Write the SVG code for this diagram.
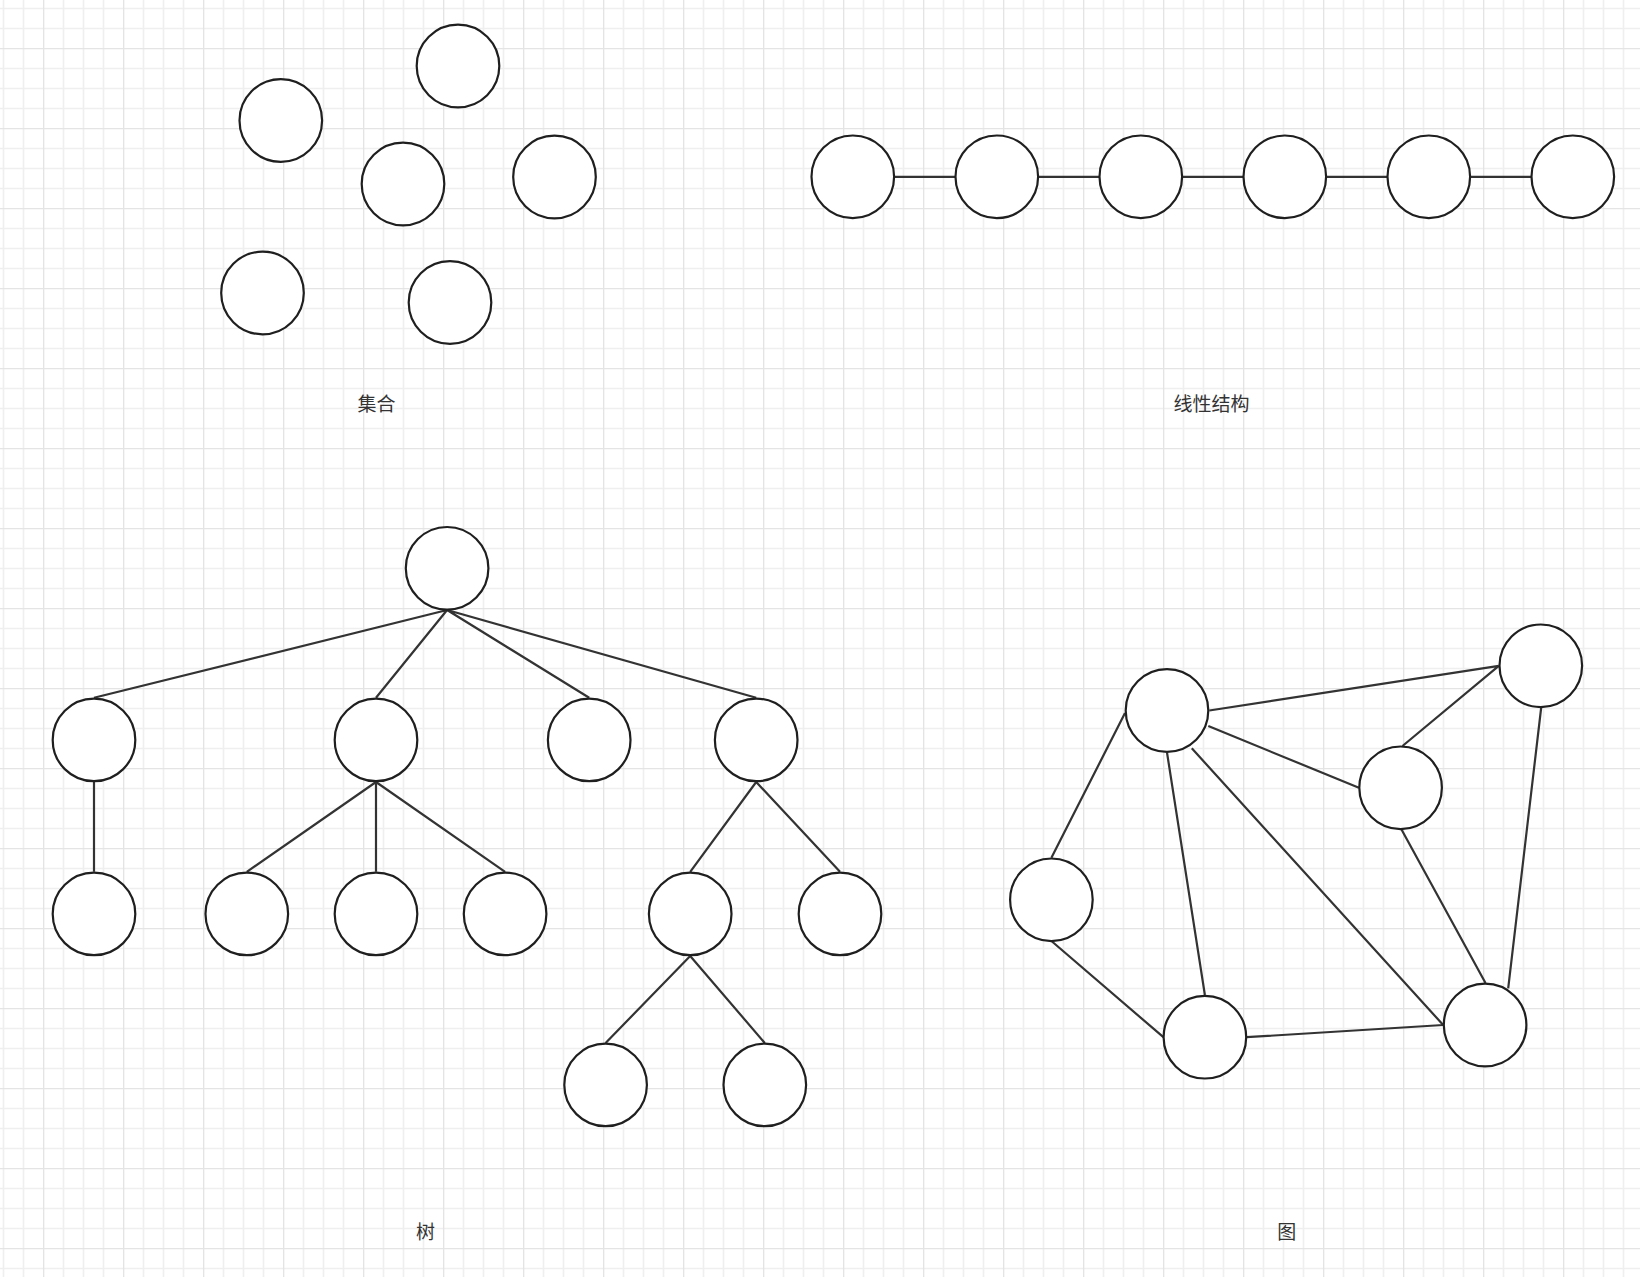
<svg xmlns="http://www.w3.org/2000/svg" width="1640" height="1277" viewBox="0 0 1640 1277">
<defs>
<pattern id="grid" x="43" y="48" width="80" height="80" patternUnits="userSpaceOnUse">
<rect width="80" height="80" fill="#ffffff"/>
<path d="M20.5 0V80M40.5 0V80M60.5 0V80M0 20.5H80M0 40.5H80M0 60.5H80" stroke="#efefef" stroke-width="1.6" fill="none"/>
<path d="M0.5 0V80M0 0.5H80" stroke="#e4e4e4" stroke-width="1.6" fill="none"/>
</pattern>
<style>
.n{fill:#ffffff;stroke:#1f1f1f;stroke-width:2.2}
.e{stroke:#333333;stroke-width:2.2;fill:none}
.t{font-family:"Noto Sans CJK SC","Noto Sans",sans-serif;font-size:19px;fill:#333333;text-anchor:middle;dominant-baseline:central}
</style>
</defs>
<rect width="1640" height="1277" fill="url(#grid)"/>
<g id="connectors">
<path class="e" d="M894.3 176.8H955.3M1038.3 176.8H1099.3M1182.3 176.8H1243.3M1326.3 176.8H1387.3M1470.3 176.8H1531.3"/>
<path class="e" d="M447.1 610L94 697.8M447.1 610L376 697.8M447.1 610L589.2 697.8M447.1 610L756.2 697.8"/>
<path class="e" d="M94 782V871.8M376 782L246.8 871.8M376 782V871.8M376 782L505.1 871.8M756.2 782L690.2 871.8M756.2 782L840 871.8M690.2 956L605.6 1043M690.2 956L764.8 1043"/>
<path class="e" d="M1209.3 710.5L1498.8 665.8M1125 713L1051.4 857.8M1208.3 726L1358.9 787.8M1498.8 665.8L1402.5 746M1167 752.5L1204.9 995M1191.8 748.3L1443.2 1025M1401.5 829.5L1485.5 983M1541.2 707.5L1508.2 988.3M1052 941.5L1163.4 1037.2M1246.4 1037.2L1443.2 1025"/>
</g>
<g id="set">
<circle id="s1" class="n" cx="280.8" cy="120.5" r="41.3"/>
<circle id="s2" class="n" cx="458" cy="66" r="41.3"/>
<circle id="s3" class="n" cx="403" cy="184" r="41.3"/>
<circle id="s4" class="n" cx="554.5" cy="177" r="41.3"/>
<circle id="s5" class="n" cx="262.5" cy="293" r="41.3"/>
<circle id="s6" class="n" cx="450" cy="302.5" r="41.3"/>
</g>
<g id="linear">
<circle id="l1" class="n" cx="852.8" cy="176.8" r="41.3"/>
<circle id="l2" class="n" cx="996.8" cy="176.8" r="41.3"/>
<circle id="l3" class="n" cx="1140.8" cy="176.8" r="41.3"/>
<circle id="l4" class="n" cx="1284.8" cy="176.8" r="41.3"/>
<circle id="l5" class="n" cx="1428.8" cy="176.8" r="41.3"/>
<circle id="l6" class="n" cx="1572.8" cy="176.8" r="41.3"/>
</g>
<g id="tree">
<circle id="t0" class="n" cx="447.1" cy="568.3" r="41.3"/>
<circle id="t1" class="n" cx="94" cy="739.9" r="41.3"/>
<circle id="t2" class="n" cx="376" cy="739.9" r="41.3"/>
<circle id="t3" class="n" cx="589.2" cy="739.9" r="41.3"/>
<circle id="t4" class="n" cx="756.2" cy="739.9" r="41.3"/>
<circle id="t5" class="n" cx="94" cy="913.9" r="41.3"/>
<circle id="t6" class="n" cx="246.8" cy="913.9" r="41.3"/>
<circle id="t7" class="n" cx="376" cy="913.9" r="41.3"/>
<circle id="t8" class="n" cx="505.1" cy="913.9" r="41.3"/>
<circle id="t9" class="n" cx="690.2" cy="913.9" r="41.3"/>
<circle id="t10" class="n" cx="840" cy="913.9" r="41.3"/>
<circle id="t11" class="n" cx="605.6" cy="1084.9" r="41.3"/>
<circle id="t12" class="n" cx="764.8" cy="1084.9" r="41.3"/>
</g>
<g id="graph">
<circle id="gA" class="n" cx="1167" cy="710.5" r="41.3"/>
<circle id="gB" class="n" cx="1540.8" cy="665.8" r="41.3"/>
<circle id="gC" class="n" cx="1400.6" cy="787.8" r="41.3"/>
<circle id="gD" class="n" cx="1051.4" cy="899.8" r="41.3"/>
<circle id="gE" class="n" cx="1204.9" cy="1037.2" r="41.3"/>
<circle id="gF" class="n" cx="1485.1" cy="1025" r="41.3"/>
</g>
<g id="labels">
<text class="t" x="376.5" y="402.5">集合</text>
<text class="t" x="1211.5" y="402.5">线性结构</text>
<text class="t" x="425.5" y="1230">树</text>
<text class="t" x="1286.7" y="1230.5">图</text>
</g>
</svg>
